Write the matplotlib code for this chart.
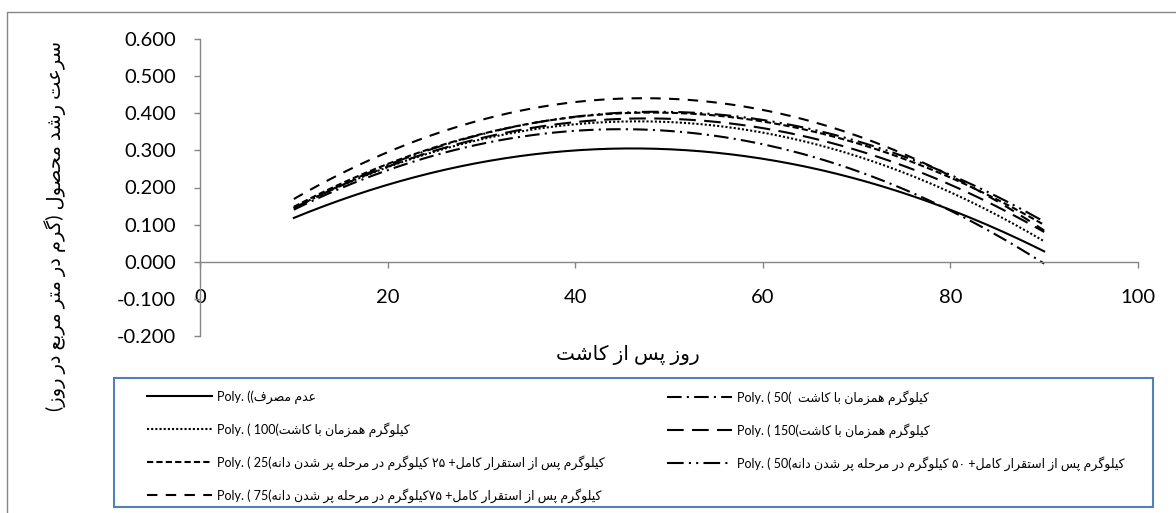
import re
import numpy as np
import matplotlib
matplotlib.use('Agg')
import matplotlib.pyplot as plt
from matplotlib.lines import Line2D
from matplotlib.patches import Rectangle

plt.rcParams['font.family'] = ['Lato', 'DejaVu Sans']

# روز پس از کاشت و سرعت رشد در هر تیمار
days = [10, 30, 50, 70, 90]
no_fert = [0.118, 0.268, 0.303, 0.223, 0.028]
n50_sow = [0.140, 0.318, 0.352, 0.245, -0.005]
n100_sow = [0.145, 0.330, 0.376, 0.285, 0.055]
n150_sow = [0.145, 0.333, 0.385, 0.301, 0.080]
n25_fill = [0.148, 0.344, 0.401, 0.320, 0.099]
n50_fill = [0.143, 0.343, 0.404, 0.325, 0.108]
n75_fill = [0.169, 0.382, 0.439, 0.340, 0.084]

x_ticks = [0, 20, 40, 60, 80, 100]
y_ticks = [-0.2, -0.1, 0.0, 0.1, 0.2, 0.3, 0.4, 0.5, 0.6]

# حروف فارسی -> (تنها، پایانی، آغازی، میانی)
FORMS = {
    'ا': ('\uFE8D', '\uFE8E', None, None),
    'ب': ('\uFE8F', '\uFE90', '\uFE91', '\uFE92'),
    'پ': ('\uFB56', '\uFB57', '\uFB58', '\uFB59'),
    'ت': ('\uFE95', '\uFE96', '\uFE97', '\uFE98'),
    'ح': ('\uFEA1', '\uFEA2', '\uFEA3', '\uFEA4'),
    'د': ('\uFEA9', '\uFEAA', None, None),
    'ر': ('\uFEAD', '\uFEAE', None, None),
    'ز': ('\uFEAF', '\uFEB0', None, None),
    'س': ('\uFEB1', '\uFEB2', '\uFEB3', '\uFEB4'),
    'ش': ('\uFEB5', '\uFEB6', '\uFEB7', '\uFEB8'),
    'ص': ('\uFEB9', '\uFEBA', '\uFEBB', '\uFEBC'),
    'ع': ('\uFEC9', '\uFECA', '\uFECB', '\uFECC'),
    'ف': ('\uFED1', '\uFED2', '\uFED3', '\uFED4'),
    'ق': ('\uFED5', '\uFED6', '\uFED7', '\uFED8'),
    'ک': ('\uFB8E', '\uFB8F', '\uFB90', '\uFB91'),
    'گ': ('\uFB92', '\uFB93', '\uFB94', '\uFB95'),
    'ل': ('\uFEDD', '\uFEDE', '\uFEDF', '\uFEE0'),
    'م': ('\uFEE1', '\uFEE2', '\uFEE3', '\uFEE4'),
    'ن': ('\uFEE5', '\uFEE6', '\uFEE7', '\uFEE8'),
    'و': ('\uFEED', '\uFEEE', None, None),
    'ه': ('\uFEE9', '\uFEEA', '\uFEEB', '\uFEEC'),
    'ی': ('\uFBFC', '\uFBFD', '\uFBFE', '\uFBFF'),
}


def shape(text):
    out = []
    for i, ch in enumerate(text):
        if ch not in FORMS:
            out.append(ch)
            continue
        prev = text[i - 1] if i > 0 else ''
        nxt = text[i + 1] if i < len(text) - 1 else ''
        join_prev = prev in FORMS and FORMS[prev][2] is not None
        join_next = nxt in FORMS and FORMS[ch][2] is not None
        iso, fin, ini, med = FORMS[ch]
        if join_prev and join_next:
            out.append(med)
        elif join_prev:
            out.append(fin)
        elif join_next:
            out.append(ini)
        else:
            out.append(iso)
    return ''.join(out)


def rtl(text):
    s = shape(text)[::-1]
    s = re.sub(r'[0-9\u06F0-\u06F9]+', lambda m: m.group(0)[::-1], s)
    return s.translate(str.maketrans('()', ')('))


fig = plt.figure(figsize=(11.76, 5.13), dpi=100)
ax = fig.add_axes([200 / 1176, 1 - 336 / 513, 938 / 1176, 297 / 513])

xs = np.linspace(10, 90, 200)
series = [
    (no_fert, '-'),
    (n50_sow, (0, (7, 2.5, 1, 2.5))),
    (n100_sow, (0, (1, 1))),
    (n150_sow, (0, (8, 4))),
    (n25_fill, (0, (3, 1.5))),
    (n50_fill, (0, (8, 2.5, 1, 2.5, 1, 2.5))),
    (n75_fill, (0, (5, 4))),
]
lines = []
for vals, ls in series:
    coef = np.polyfit(days, vals, 2)
    ln, = ax.plot(xs, np.polyval(coef, xs), color='black', lw=1.5, ls=ls)
    lines.append(ln)

ax.set_xlim(0, 100)
ax.set_ylim(-0.2, 0.6)
ax.set_xticks(x_ticks)
ax.set_yticks(y_ticks)
ax.set_yticklabels(['%.3f' % v for v in y_ticks])
ax.spines['top'].set_visible(False)
ax.spines['right'].set_visible(False)
ax.spines['bottom'].set_position(('data', 0))
for sp in ['left', 'bottom']:
    ax.spines[sp].set_color('#868686')
    ax.spines[sp].set_linewidth(1)
ax.tick_params(axis='y', direction='out', length=4.5, width=1, color='#868686', pad=13, labelsize=14.5)
ax.tick_params(axis='x', direction='out', length=4.5, width=1, color='#868686', pad=15, labelsize=14.5)
ax.patch.set_visible(False)

fig.text(628 / 1176, 1 - 355 / 513, rtl('روز پس از کاشت'), ha='center', va='center', fontsize=14.5)
fig.text(55 / 1176, 1 - 226 / 513, rtl('سرعت رشد محصول (گرم در متر مربع در روز)'),
         ha='center', va='center', rotation=90, fontsize=14)

sow = 'کیلوگرم همزمان با کاشت'
labels_left = [
    'Poly. ((' + rtl('عدم مصرف'),
    'Poly. ( 100(' + rtl(sow),
    'Poly. ( 25(' + rtl('کیلوگرم پس از استقرار کامل+ ۲۵ کیلوگرم در مرحله پر شدن دانه'),
    'Poly. ( 75(' + rtl('کیلوگرم پس از استقرار کامل+ ۷۵کیلوگرم در مرحله پر شدن دانه'),
]
labels_right = [
    'Poly. ( 50(  ' + rtl(sow),
    'Poly. ( 150(' + rtl(sow),
    'Poly. ( 50(' + rtl('کیلوگرم پس از استقرار کامل+ ۵۰ کیلوگرم در مرحله پر شدن دانه'),
]
leg_kw = dict(frameon=False, fontsize=9, handlelength=5.2, handletextpad=0.4,
              labelspacing=1.46, borderpad=0, borderaxespad=0, loc='upper left')
leg1 = fig.legend([lines[0], lines[2], lines[4], lines[6]], labels_left,
                  bbox_to_anchor=(147 / 1176, 1 - 390 / 513), **leg_kw)
leg2 = fig.legend([lines[1], lines[3], lines[5]], labels_right,
                  bbox_to_anchor=(667 / 1176, 1 - 390 / 513), **leg_kw)

fig.patches.append(Rectangle((114 / 1176, 1 - 507 / 513), 1039 / 1176, 129 / 513,
                             transform=fig.transFigure, fill=False, ec='#4F81BD', lw=1.5))
fig.lines.append(Line2D([7 / 1176, 7 / 1176, 1], [0, 1 - 12 / 513, 1 - 12 / 513],
                        transform=fig.transFigure, color='#868686', lw=1))

fig.savefig('out.png', dpi=100)
